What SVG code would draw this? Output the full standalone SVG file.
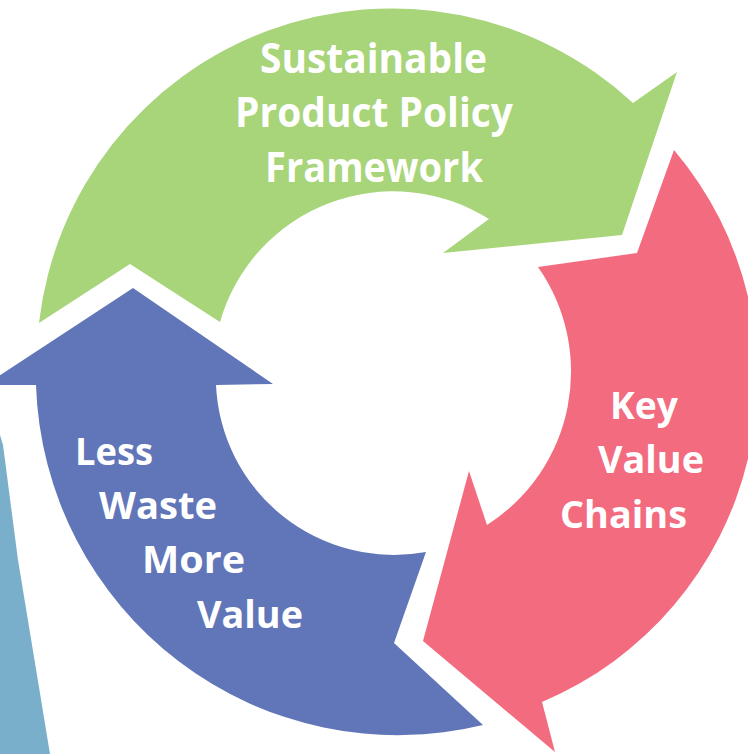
<svg xmlns="http://www.w3.org/2000/svg" width="748" height="754" viewBox="0 0 748 754">
<style>
.lbl{font-family:"Open Sans","Noto Sans","DejaVu Sans",sans-serif;font-weight:700;fill:#ffffff}
.big{font-size:42px}
.mid{font-size:38px}
</style>
<rect x="0" y="0" width="748" height="754" fill="#ffffff"/>
<g id="side-band">
<path d="M0,435 L3,445 L18,560 L50,754 L0,754 Z" fill="#7AAFCB"/>
</g>
<g id="connectors"/>
<g id="node-sustainable-product-policy">
<path d="M39,323 L130,264 L220,322 A180 180 0 0 1 489,219 L443,253 L622,235 L677,72 L633,103 A355 355 0 0 0 39,323 Z" fill="#A8D47A"/>
<text class="lbl big" x="260" y="73" textLength="227" lengthAdjust="spacingAndGlyphs">Sustainable</text>
<text class="lbl big" x="235" y="127" textLength="278" lengthAdjust="spacingAndGlyphs">Product Policy</text>
<text class="lbl big" x="265" y="182" textLength="218" lengthAdjust="spacingAndGlyphs">Framework</text>
</g>
<g id="node-key-value-chains">
<path d="M674,150 L637,253 L538,267 A182 182 0 0 1 487,525 L469,471 L423,641 L555,752 L542,702 A352 352 0 0 0 674,150 Z" fill="#F26B7F"/>
<text class="lbl mid" x="610" y="419" textLength="68" lengthAdjust="spacingAndGlyphs">Key</text>
<text class="lbl mid" x="598" y="473" textLength="106" lengthAdjust="spacingAndGlyphs">Value</text>
<text class="lbl mid" x="560" y="528" textLength="127" lengthAdjust="spacingAndGlyphs">Chains</text>
</g>
<g id="node-less-waste-more-value">
<path d="M426,552 L394,643 L483,725 A362 362 0 0 1 36,385 L-15,385 L133,288 L273,384 L216,385 A178 178 0 0 0 426,552 Z" fill="#6176B8"/>
<text class="lbl mid" x="75" y="465" textLength="78" lengthAdjust="spacingAndGlyphs">Less</text>
<text class="lbl mid" x="99" y="519" textLength="118" lengthAdjust="spacingAndGlyphs">Waste</text>
<text class="lbl mid" x="142" y="573" textLength="103" lengthAdjust="spacingAndGlyphs">More</text>
<text class="lbl mid" x="197" y="628" textLength="106" lengthAdjust="spacingAndGlyphs">Value</text>
</g>
</svg>
